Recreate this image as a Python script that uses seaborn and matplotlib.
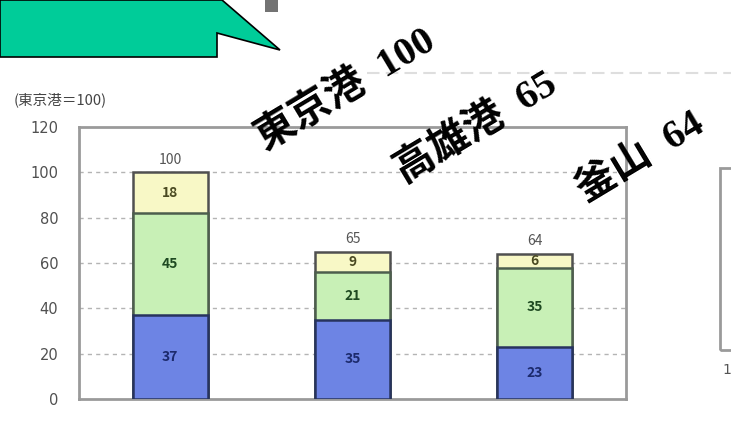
import matplotlib
matplotlib.use("Agg")
import matplotlib.pyplot as plt
from matplotlib.patches import Polygon, Rectangle
from matplotlib.lines import Line2D
import pandas as pd
import seaborn as sns

# Container throughput cost index per port (東京港 = 100)
ports = ["東京港", "高雄港", "釜山"]
seg_bottom = [37, 35, 23]
seg_middle = [45, 21, 35]
seg_top = [18, 9, 6]
totals = [100, 65, 64]
y_ticks = [0, 20, 40, 60, 80, 100, 120]
unit_label = "(東京港＝100)"
callouts = ["東京港  100", "高雄港  65", "釜山  64"]

sns.set_theme(style="white")
plt.rcParams["font.family"] = ["Noto Sans CJK JP", "DejaVu Sans"]

W, H = 731, 422
fig = plt.figure(figsize=(W / 100, H / 100), dpi=100)
fig.patch.set_facecolor("white")


def fx(px):
    return px / W


def fy(py):
    return 1 - py / H


ax = fig.add_axes([fx(79), fy(399), (626 - 79) / W, (399 - 127) / H])

df = pd.DataFrame({"port": ports, "bottom": seg_bottom,
                   "middle": seg_middle, "top": seg_top})
df["lvl1"] = df["bottom"]
df["lvl2"] = df["bottom"] + df["middle"]
df["lvl3"] = df["lvl2"] + df["top"]

c_blue, c_green, c_yellow = "#6d84e4", "#c8f0b6", "#f8f8c6"
e_blue, e_green, e_yellow = "#27335e", "#4d5e4d", "#505050"

# stacked bars: draw the cumulative heights from tallest down
for col, fc, ec in [("lvl3", c_yellow, e_yellow),
                    ("lvl2", c_green, e_green),
                    ("lvl1", c_blue, e_blue)]:
    sns.barplot(data=df, x="port", y=col, color=fc, saturation=1,
                edgecolor=ec, linewidth=1.8, width=0.41,
                errorbar=None, ax=ax, zorder=3)

ax.set_ylim(0, 120)
ax.set_xlim(-0.5, 2.5)
ax.set_yticks(y_ticks)
ax.set_yticklabels([str(t) for t in y_ticks], color="#505050", fontsize=10.5,
                   family=["DejaVu Sans"])
ax.tick_params(axis="y", length=0, pad=15)
ax.set_xticks([])
ax.set_xlabel("")
ax.set_ylabel("")

for t in y_ticks[1:-1]:
    ax.axhline(t, color="#b4b4b4", lw=1, ls=(0, (3, 3)), zorder=1)

for sp in ax.spines.values():
    sp.set_visible(True)
    sp.set_color("#9a9a9a")
    sp.set_linewidth(2)

# segment and total labels
for i in range(len(ports)):
    b, m, t = seg_bottom[i], seg_middle[i], seg_top[i]
    ax.text(i, b / 2, str(b), ha="center", va="center", fontsize=10,
            color="#1c2a6c", fontweight="bold", zorder=5)
    ax.text(i, b + m / 2, str(m), ha="center", va="center", fontsize=10,
            color="#1f4a22", fontweight="bold", zorder=5)
    ax.text(i, b + m + t / 2, str(t), ha="center", va="center", fontsize=10,
            color="#4a4a22", fontweight="bold", zorder=5)
    ax.text(i, totals[i] + 2.5, str(totals[i]), ha="center", va="bottom",
            fontsize=10, color="#555555", zorder=5)

fig.text(fx(14), fy(100), unit_label, ha="left", va="center",
         fontsize=10.5, color="#444444")

# callout arrow shape at the top left
callout_px = [(0, 0), (222, 0), (280, 50), (217, 33), (217, 57), (0, 57)]
fig.add_artist(Polygon([(fx(x), fy(y)) for x, y in callout_px],
                       closed=True, transform=fig.transFigure,
                       facecolor="#00cc99", edgecolor="black", lw=1.2))
fig.add_artist(Rectangle((fx(265), fy(12)), 13 / W, 12 / H,
                         transform=fig.transFigure, facecolor="#444444",
                         edgecolor="none", alpha=0.75))

# neighbouring panel outlines
fig.add_artist(Line2D([fx(367), fx(731)], [fy(73), fy(73)],
                      transform=fig.transFigure, color="#dedede", lw=1.5,
                      ls=(0, (6, 3))))
fig.add_artist(Rectangle((fx(720), fy(350)), 30 / W, (350 - 168) / H,
                         transform=fig.transFigure, facecolor="none",
                         edgecolor="#9a9a9a", lw=2))
fig.text(fx(722), fy(370), "1", ha="left", va="center", fontsize=10,
         color="#555555", family=["DejaVu Sans"])

# rotated port headline labels
big_family = ["Liberation Serif", "Noto Sans CJK JP"]
for label, (cx, cy) in zip(callouts, [(346, 90), (476, 128), (641, 158)]):
    fig.text(fx(cx), fy(cy), label, rotation=31, rotation_mode="anchor",
             ha="center", va="center", fontsize=29, fontweight="bold",
             color="black", family=big_family)

fig.savefig("out.png", dpi=100, facecolor="white")
